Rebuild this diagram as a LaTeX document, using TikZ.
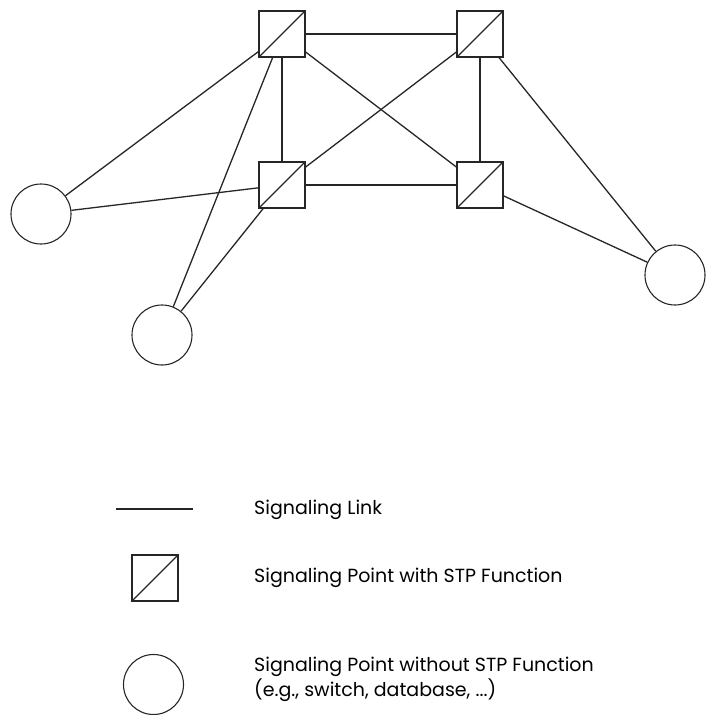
\documentclass[tikz,border=0pt]{standalone}
\usepackage{fontspec}
\setmainfont{Poppins}
\begin{document}
\begin{tikzpicture}[x=1pt,y=-1pt,
  link/.style={line width=1.3pt, draw=black!85},
  stp/.style={draw=black!85, line width=1.3pt, rectangle, minimum size=46pt, inner sep=0pt,
    path picture={\draw[line width=1.3pt, black!85] (path picture bounding box.south west) -- (path picture bounding box.north east);}},
  sp/.style={draw=black!85, line width=1.1pt, circle, minimum size=60pt, inner sep=0pt},
  lbl/.style={anchor=west, inner sep=0pt, font=\fontsize{19}{23}\selectfont, text=black}]
\useasboundingbox (0,0) rectangle (705,715);
% STP nodes
\node[stp] (tl) at (282,34) {};
\node[stp] (tr) at (480,34) {};
\node[stp] (bl) at (282,185) {};
\node[stp] (br) at (480,185) {};
% SP nodes
\node[sp] (cl) at (41,214) {};
\node[sp] (cb) at (162,335) {};
\node[sp] (cr) at (675,275) {};
% links
\draw[link] (tl) -- (tr);
\draw[link] (bl) -- (br);
\draw[link] (tl) -- (bl);
\draw[link] (tr) -- (br);
\draw[link] (tl) -- (br);
\draw[link] (tr) -- (bl);
\draw[link] (tl) -- (cl);
\draw[link] (bl) -- (cl);
\draw[link] (tl) -- (cb);
\draw[link] (bl) -- (cb);
\draw[link] (tr) -- (cr);
\draw[link] (br) -- (cr);
% legend
\coordinate (la) at (116,509);
\coordinate (lb) at (193,509);
\draw[link] (la) -- (lb);
\node[lbl] (t1) at (254,510) {Signaling Link};
\node[stp] (lstp) at (155,578) {};
\node[lbl] (t2) at (254,578) {Signaling Point with STP Function};
\node[sp] (lsp) at (153.5,684.5) {};
\node[lbl] (t3) at (254,667) {Signaling Point without STP Function};
\node[lbl] (t4) at (254,690) {(e.g., switch, database, ...)};
\end{tikzpicture}
\end{document}
